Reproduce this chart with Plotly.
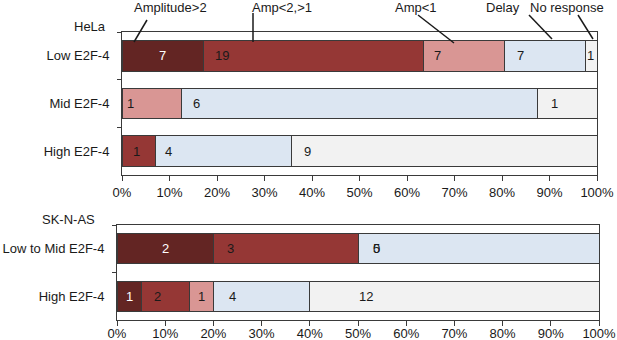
import plotly.graph_objects as go

# ---------------- data ----------------
series = ["Amplitude>2", "Amp<2,>1", "Amp<1", "Delay", "No response"]

hela_rows = ["Low E2F-4", "Mid E2F-4", "High E2F-4"]
hela_amp_gt2 = [7, 0, 0]
hela_amp_1_2 = [19, 0, 1]
hela_amp_lt1 = [7, 1, 0]
hela_delay = [7, 6, 4]
hela_noresp = [1, 1, 9]

sk_rows = ["Low to Mid E2F-4", "High E2F-4"]
sk_amp_gt2 = [2, 1]
sk_amp_1_2 = [3, 2]
sk_amp_lt1 = [0, 1]
sk_delay = [5, 4]
sk_noresp = [0, 12]

tick_vals = [0, 10, 20, 30, 40, 50, 60, 70, 80, 90, 100]
tick_text = ["0%", "10%", "20%", "30%", "40%", "50%", "60%", "70%", "80%", "90%", "100%"]

# ---------------- style ----------------
colors = ["#632523", "#953735", "#D99694", "#DCE6F2", "#F2F2F2"]
text_colors = ["white", "#1a1a1a", "#1a1a1a", "#1a1a1a", "#1a1a1a"]
FONT = "Liberation Sans, Arial, sans-serif"
W, H = 617, 340

# label style per panel: [row][series] -> (mode, pixel shift) ; None = hidden
hela_label_style = [
    [("c", 0), ("l", 10), ("l", 9), ("l", 11), ("l", 0)],
    [None, None, ("l", 3), ("l", 10), ("l", 11)],
    [None, ("l", 9), None, ("l", 7), ("l", 10)],
]
sk_label_style = [
    [("c", 0), ("l", 12), ("l", 13), ("l", 13), None],
    [("c", 0), ("l", 11), ("c", 0), ("l", 14), ("l", 47)],
]

def px(x, y):
    return x / W, 1 - y / H

fig = go.Figure()

hela_data = [hela_amp_gt2, hela_amp_1_2, hela_amp_lt1, hela_delay, hela_noresp]
sk_data = [sk_amp_gt2, sk_amp_1_2, sk_amp_lt1, sk_delay, sk_noresp]

annotations = []

def add_panel(rows, data, xa, ya, styles):
    totals = [sum(d[i] for d in data) for i in range(len(rows))]
    pcts = [[d[i] / totals[i] * 100 for i in range(len(rows))] for d in data]
    for s, name in enumerate(series):
        fig.add_trace(go.Bar(
            y=rows, x=pcts[s], orientation="h", name=name,
            marker=dict(color=colors[s], line=dict(color="#3a3a3a", width=1)),
            xaxis=xa, yaxis=ya, showlegend=False, hoverinfo="skip",
            width=0.64,
        ))
    for i, row in enumerate(rows):
        start = 0.0
        for s in range(len(series)):
            st = styles[i][s]
            w = pcts[s][i]
            if st is not None:
                mode, shift = st
                if mode == "c":
                    x, anchor = start + w / 2, "center"
                else:
                    x, anchor = start, "left"
                annotations.append(dict(
                    x=x, y=row, xref=xa, yref=ya, text=str(data[s][i]),
                    showarrow=False, xanchor=anchor, xshift=shift,
                    font=dict(family=FONT, size=13, color=text_colors[s]),
                ))
            start += w

add_panel(hela_rows, hela_data, "x", "y", hela_label_style)
add_panel(sk_rows, sk_data, "x2", "y2", sk_label_style)

axis_common = dict(
    showline=True, linecolor="#3a3a3a", linewidth=1, mirror=True, automargin=False,
    showgrid=False, zeroline=False, ticks="outside", tickcolor="#3a3a3a",
    tickfont=dict(family=FONT, size=13, color="#1a1a1a"),
)

x0a, _ = px(122, 0); x1a, _ = px(597, 0)
_, ya0 = px(0, 175); _, ya1 = px(0, 32)
x0b, _ = px(117, 0); x1b, _ = px(599, 0)
_, yb0 = px(0, 320); _, yb1 = px(0, 225)

fig.update_layout(
    width=W, height=H, margin=dict(l=0, r=0, t=0, b=0, autoexpand=False),
    paper_bgcolor="white", plot_bgcolor="white", barmode="stack", bargap=0.36,
    xaxis=dict(domain=[x0a, x1a], anchor="y", range=[0, 100], tickvals=tick_vals,
               ticktext=tick_text, ticklen=5, **axis_common),
    yaxis=dict(domain=[ya0, ya1], anchor="x", categoryorder="array",
               categoryarray=hela_rows, autorange="reversed", tickson="boundaries",
               ticklen=4, ticklabelstandoff=9, **axis_common),
    xaxis2=dict(domain=[x0b, x1b], anchor="y2", range=[0, 100], tickvals=tick_vals,
                ticktext=tick_text, ticklen=5, ticklabelstandoff=-4, **axis_common),
    yaxis2=dict(domain=[yb0, yb1], anchor="x2", categoryorder="array",
                categoryarray=sk_rows, autorange="reversed", tickson="boundaries",
                ticklen=4, ticklabelstandoff=9, **axis_common),
)

# panel titles
for txt, (x, y) in [("HeLa", (108, 27)), ("SK-N-AS", (97, 219))]:
    ax, ay = px(x, y)
    annotations.append(dict(x=ax, y=ay, xref="paper", yref="paper", text=txt,
                            showarrow=False, xanchor="right", yanchor="middle",
                            font=dict(family=FONT, size=13, color="#1a1a1a")))

# callout legend labels and leader lines
callouts = [
    ("Amplitude>2", (170, 7), (147, 20), (134, 42)),
    ("Amp<2,>1", (282, 7), (253, 13), (253, 42)),
    ("Amp<1", (416, 7), (418, 15), (454, 43)),
    ("Delay", (503, 7), (529, 15), (552, 39)),
    ("No response", (567, 7), (578, 15), (593, 39)),
]
shapes = []
for txt, (tx, ty), (lx0, ly0), (lx1, ly1) in callouts:
    ax, ay = px(tx, ty)
    annotations.append(dict(x=ax, y=ay, xref="paper", yref="paper", text=txt,
                            showarrow=False, xanchor="center", yanchor="middle",
                            font=dict(family=FONT, size=13, color="#1a1a1a")))
    a0, b0 = px(lx0, ly0); a1, b1 = px(lx1, ly1)
    shapes.append(dict(type="line", xref="paper", yref="paper", x0=a0, y0=b0,
                       x1=a1, y1=b1, line=dict(color="#1a1a1a", width=1.5)))

fig.update_layout(annotations=annotations, shapes=shapes)
fig.write_html("out.html", config={"displayModeBar": False},
               post_script="document.body.style.margin='0';document.body.style.overflow='hidden';")
